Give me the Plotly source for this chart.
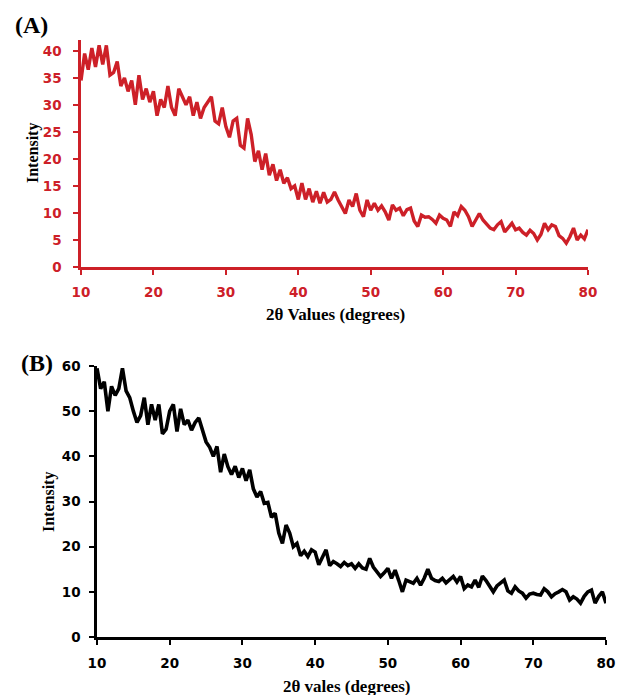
import numpy as np
import plotly.graph_objects as go

# ---------------- data (0.5 degree steps) ----------------
intensity_A = [
    34.5, 39.5, 36.5, 40.5, 37, 41, 37.5, 41, 35.5, 36,
    38, 33.5, 35, 32.5, 34.5, 30, 35.5, 31, 33, 30.5,
    32.5, 28, 31, 29.5, 33.5, 29.5, 28, 33, 31.5, 30,
    31.5, 28, 30.5, 27.5, 29.5, 30.5, 31.5, 27, 26.5, 29.5,
    26, 24, 27, 27.5, 22.5, 22, 27.5, 24.5, 19.5, 21.5,
    18, 21, 17, 19, 16, 18, 15.5, 16.5, 14.5, 15,
    12.5, 15.5, 12.5, 14.5, 12, 14, 11.8, 13.8, 12, 12.5,
    13.9, 12.4, 11, 9.9, 12.4, 11.2, 13.6, 10.5, 9.3, 12.4,
    10.5, 11.8, 10.5, 11.3, 10.2, 8.7, 11.5, 10.5, 10.9, 9.5,
    10.6, 10.9, 8.5, 7.5, 9.6, 9.2, 9.3, 8.8, 8.1, 9.6,
    9.0, 8.7, 7.5, 10.2, 9.5, 11.2, 10.5, 9.3, 7.5, 8.8,
    9.9, 8.7, 8.0, 7.2, 6.9, 7.8, 8.4, 6.5, 7.3, 8.1,
    6.9, 7.2, 6.4, 5.9, 6.8, 6.2, 5.0, 6.0, 8.1, 6.9,
    7.8, 7.5, 5.8, 5.3, 4.4, 5.6, 7.2, 5.0, 5.9, 5.2,
    6.9,
]
intensity_B = [
    59.5, 55, 56.5, 50, 55.5, 53.5, 55, 59.5, 54.5, 53,
    50, 47.5, 49, 53, 47, 51.5, 48, 51.5, 45, 46,
    50, 51.5, 45.5, 50.5, 47, 48, 45.8, 47.5, 48.5, 45.5,
    43.2, 42, 40, 42.2, 36.5, 40.5, 37.7, 36, 37.8, 35.3,
    37.3, 34.6, 37, 32.8, 31, 32.2, 29.6, 29.8, 26.5, 27.4,
    23, 20.7, 24.8, 23, 20, 20.7, 18, 19, 17.8, 19.3,
    18.8, 16, 17.5, 19.3, 15.8, 16.7, 16.2, 15.6, 16.5, 15.8,
    16.2, 15.2, 16.2, 15.3, 15.0, 17.4, 15.5, 14.5, 13.4, 14.2,
    15.2, 13, 14.8, 12.5, 10, 12.6, 12.2, 11.9, 13, 11.5,
    13, 15, 13, 12.5, 12.3, 13, 12, 12.6, 13.4, 12.2,
    13.4, 10.7, 11.5, 11.1, 12.6, 11.0, 13.5, 12.5, 11.1, 10,
    11.3, 12.0, 12.6, 10.2, 9.7, 11.1, 10.2, 9.7, 8.6, 9.5,
    9.7, 9.4, 9.3, 10.7, 10.0, 8.9, 9.6, 10.0, 10.5, 10.0,
    8.2, 8.9, 8.4, 7.5, 9.0, 10.0, 10.4, 7.5, 9.0, 10,
    7.5,
]
two_theta_A = np.linspace(10, 80, len(intensity_A))
two_theta_B = np.linspace(10, 80, len(intensity_B))

x_ticks = [10, 20, 30, 40, 50, 60, 70, 80]
y_ticks_A = [0, 5, 10, 15, 20, 25, 30, 35, 40]
y_ticks_B = [0, 10, 20, 30, 40, 50, 60]

# ---------------- styling ----------------
W, H = 617, 695
RED = "rgb(205,32,40)"
BLACK = "black"
SERIF = "Liberation Serif"
TICKFONT = "DejaVu Sans"


def px_x(p):
    return p / W


def px_y(p):
    return (H - p) / H


fig = go.Figure()
fig.add_trace(go.Scatter(x=two_theta_A, y=intensity_A, mode="lines",
                         line=dict(color=RED, width=3.4), xaxis="x", yaxis="y",
                         showlegend=False))
fig.add_trace(go.Scatter(x=two_theta_B, y=intensity_B, mode="lines",
                         line=dict(color=BLACK, width=3.6), xaxis="x2", yaxis="y2",
                         showlegend=False))


def axis_style(color, ticks, rng, standoff):
    return dict(
        range=rng, tickvals=ticks, showgrid=False, zeroline=False,
        showline=True, linecolor=color, linewidth=2.5,
        ticks="outside", ticklen=5, tickwidth=2, tickcolor=color,
        ticklabelstandoff=standoff,
        tickfont=dict(family=TICKFONT, size=13.5, color=color, weight="bold"),
        fixedrange=True, automargin=False,
    )


fig.update_layout(
    template="none",
    width=W, height=H,
    margin=dict(l=0, r=0, t=0, b=0),
    paper_bgcolor="white", plot_bgcolor="white",
    xaxis=dict(domain=[px_x(81), px_x(588)], anchor="y",
               **axis_style(RED, x_ticks, [10, 80], 6)),
    yaxis=dict(domain=[px_y(267), px_y(40)], anchor="x",
               **axis_style(RED, y_ticks_A, [0, 42], 9)),
    xaxis2=dict(domain=[px_x(97), px_x(606)], anchor="y2",
                **axis_style(BLACK, x_ticks, [10, 80], 7)),
    yaxis2=dict(domain=[px_y(637), px_y(366)], anchor="x2",
                **axis_style(BLACK, y_ticks_B, [0, 60], 6)),
)

ann = [
    dict(text="(A)", x=px_x(31), y=px_y(25), size=24),
    dict(text="(B)", x=px_x(37), y=px_y(363), size=24),
    dict(text="2θ Values (degrees)", x=px_x(335), y=px_y(314), size=17),
    dict(text="2θ vales (degrees)", x=px_x(347), y=px_y(686), size=17),
    dict(text="Intensity", x=px_x(33), y=px_y(153), size=16, angle=-90),
    dict(text="Intensity", x=px_x(49), y=px_y(502), size=16, angle=-90),
]
for a in ann:
    fig.add_annotation(
        text=a["text"], x=a["x"], y=a["y"], xref="paper", yref="paper",
        xanchor="center", yanchor="middle", showarrow=False,
        textangle=a.get("angle", 0),
        font=dict(family=SERIF, size=a["size"], color="black", weight="bold"),
    )

fig.write_html("out.html")
